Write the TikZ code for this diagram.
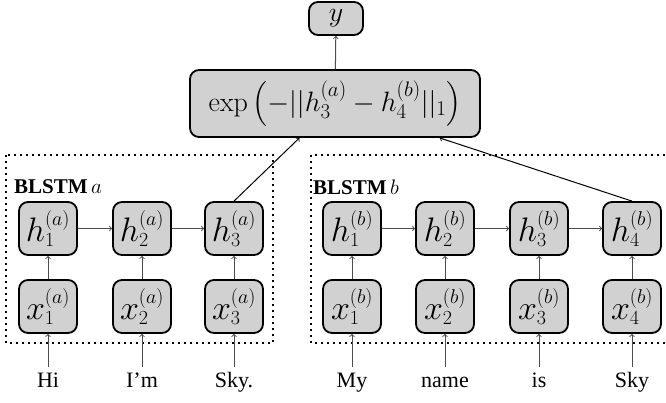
\RequirePackage{fix-cm}
\documentclass[tikz,border=0pt]{standalone}
\usepackage[no-math]{fontspec}
\setmainfont{Liberation Serif}
\usepackage{amsmath}
% math sizes for the large node fonts
\DeclareMathSizes{34}{34}{20}{14}
\DeclareMathSizes{28}{28}{21}{15}
\begin{document}
\begin{tikzpicture}[x=1pt,y=-1pt,
  cell/.style={draw=black,line width=1.8pt,fill=black!18,rounded corners=9pt,
    minimum width=58pt,minimum height=53pt,inner sep=0pt,font=\fontsize{34}{38}\selectfont},
  topbox/.style={draw=black,line width=1.8pt,fill=black!18,rounded corners=9pt,
    inner sep=0pt,font=\fontsize{28}{32}\selectfont},
  word/.style={font=\fontsize{22}{26}\selectfont,inner sep=0pt},
  link/.style={draw=black!70,line width=1pt,->},
  group/.style={draw=black,line width=1.8pt,dash pattern=on 1.8pt off 4.2pt}]
\useasboundingbox (0,0) rectangle (666,402);

% output nodes
\node[topbox,minimum width=54pt,minimum height=33pt] (y) at (336,18.5) {$y$};
\node[topbox,minimum width=290pt,minimum height=67pt] (exp) at (335,103.5)
  {$\exp\left(-||h_3^{(a)}-h_4^{(b)}||_1\right)$};

% dotted groups
\draw[group] (6,155) rectangle (273,343);
\draw[group] (311,155) rectangle (672,343);
\node[anchor=west,inner sep=0pt,font=\fontsize{21}{25}\selectfont] (la) at (14,187) {\textbf{BLSTM}\,$a$};
\node[anchor=west,inner sep=0pt,font=\fontsize{21}{25}\selectfont] (lb) at (313,187) {\textbf{BLSTM}\,$b$};

% sentence a
\foreach \i/\px/\w in {1/48/Hi,2/142/I’m,3/234/Sky.}{
  \node[cell] (ha\i) at (\px,228.5) {$h_\i^{(a)}$};
  \node[cell] (xa\i) at (\px,306.5) {$x_\i^{(a)}$};
  \node[word] (wa\i) at (\px,382) {\strut\w};
  \coordinate (sa\i) at (\px,367);
  \draw[link] (sa\i) -- (xa\i);
  \draw[link] (xa\i) -- (ha\i);
}
\draw[link] (ha1) -- (ha2);
\draw[link] (ha2) -- (ha3);

% sentence b
\foreach \i/\px/\w in {1/352/My,2/445/name,3/539/is,4/632/Sky}{
  \node[cell] (hb\i) at (\px,228.5) {$h_\i^{(b)}$};
  \node[cell] (xb\i) at (\px,306.5) {$x_\i^{(b)}$};
  \node[word] (wb\i) at (\px,382) {\strut\w};
  \coordinate (sb\i) at (\px,367);
  \draw[link] (sb\i) -- (xb\i);
  \draw[link] (xb\i) -- (hb\i);
}
\draw[link] (hb1) -- (hb2);
\draw[link] (hb2) -- (hb3);
\draw[link] (hb3) -- (hb4);

% similarity and output
\draw[link,draw=black] (ha3.north) -- (exp);
\draw[link,draw=black] (hb4.north) -- (exp);
\draw[link] (exp) -- (y);
\end{tikzpicture}
\end{document}
